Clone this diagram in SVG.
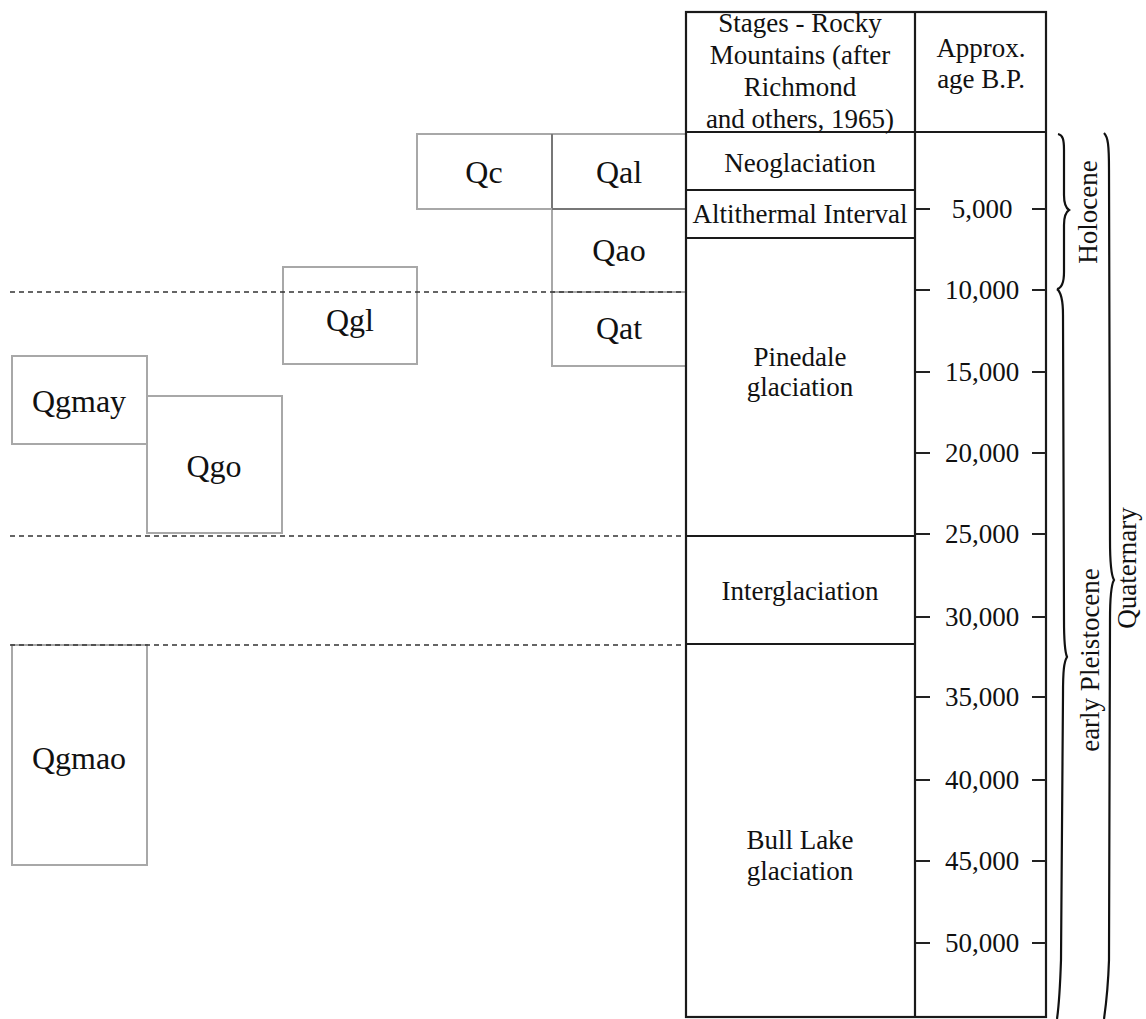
<svg xmlns="http://www.w3.org/2000/svg" width="1146" height="1019" viewBox="0 0 1146 1019">
<style>
text{font-family:"Liberation Serif","Times New Roman",serif;fill:#111}
.t{font-size:27px;text-anchor:middle}
.q{font-size:32px;text-anchor:middle}
.cell{fill:none;stroke:#1a1a1a;stroke-width:2.2}
.box{fill:#fff;stroke:#a8a8a8;stroke-width:2}
.tick{stroke:#222;stroke-width:2}
.dash{stroke:#333;stroke-width:1.5;stroke-dasharray:5 4;fill:none}
.brace{fill:none;stroke:#111;stroke-width:2.2}
</style>
<rect width="1146" height="1019" fill="#fff"/>

<g id="left-boxes">
<g id="Qc"><rect class="box" x="417" y="134" width="135" height="75"/><text class="q" x="484" y="183">Qc</text></g>
<g id="Qal"><rect class="box" x="552" y="134" width="134" height="75"/><line x1="552" y1="134" x2="552" y2="209" stroke="#777" stroke-width="2"/><line x1="552" y1="209" x2="686" y2="209" stroke="#777" stroke-width="2"/><text class="q" x="619" y="183">Qal</text></g>
<g id="Qao"><rect class="box" x="552" y="209" width="134" height="83"/><line x1="552" y1="209" x2="686" y2="209" stroke="#777" stroke-width="2"/><text class="q" x="619" y="261">Qao</text></g>
<g id="Qat"><rect class="box" x="552" y="292" width="134" height="74"/><text class="q" x="619" y="339">Qat</text></g>
<g id="Qgl"><rect class="box" x="283" y="267" width="134" height="97"/><text class="q" x="350" y="331">Qgl</text></g>
<g id="Qgmay"><rect class="box" x="12" y="356" width="135" height="88"/><text class="q" x="79" y="412">Qgmay</text></g>
<g id="Qgo"><rect class="box" x="147" y="396" width="135" height="137"/><text class="q" x="214" y="477">Qgo</text></g>
<g id="Qgmao"><rect class="box" x="12" y="645" width="135" height="220"/><text class="q" x="79" y="769">Qgmao</text></g>
</g>

<g id="connectors">
<line class="dash" x1="10" y1="292" x2="686" y2="292"/>
<line class="dash" x1="10" y1="536" x2="686" y2="536"/>
<line class="dash" x1="10" y1="645" x2="686" y2="645"/>
</g>

<g id="table">
<rect class="cell" x="686" y="12" width="360" height="1005"/>
<line class="cell" x1="915" y1="12" x2="915" y2="1017"/>
<line class="cell" x1="686" y1="132" x2="1046" y2="132"/>
<line class="cell" x1="686" y1="190" x2="915" y2="190"/>
<line class="cell" x1="686" y1="238" x2="915" y2="238"/>
<line class="cell" x1="686" y1="536" x2="915" y2="536"/>
<line class="cell" x1="686" y1="644" x2="915" y2="644"/>
</g>

<g id="header-stages">
<text class="t" x="800" y="32">Stages - Rocky</text>
<text class="t" x="800" y="64">Mountains (after</text>
<text class="t" x="800" y="96">Richmond</text>
<text class="t" x="800" y="128">and others, 1965)</text>
</g>
<g id="header-age">
<text class="t" x="981" y="57">Approx.</text>
<text class="t" x="981" y="88">age B.P.</text>
</g>

<g id="stage-neoglaciation"><text class="t" x="800" y="172">Neoglaciation</text></g>
<g id="stage-altithermal"><text class="t" x="800" y="223">Altithermal Interval</text></g>
<g id="stage-pinedale"><text class="t" x="800" y="366">Pinedale</text><text class="t" x="800" y="396">glaciation</text></g>
<g id="stage-interglaciation"><text class="t" x="800" y="600">Interglaciation</text></g>
<g id="stage-bulllake"><text class="t" x="800" y="849">Bull Lake</text><text class="t" x="800" y="880">glaciation</text></g>

<g id="age-scale">
<g class="tick">
<line x1="916" y1="209" x2="930" y2="209"/><line x1="1032" y1="209" x2="1046" y2="209"/>
<line x1="916" y1="290" x2="930" y2="290"/><line x1="1032" y1="290" x2="1046" y2="290"/>
<line x1="916" y1="372" x2="930" y2="372"/><line x1="1032" y1="372" x2="1046" y2="372"/>
<line x1="916" y1="453" x2="930" y2="453"/><line x1="1032" y1="453" x2="1046" y2="453"/>
<line x1="916" y1="534" x2="930" y2="534"/><line x1="1032" y1="534" x2="1046" y2="534"/>
<line x1="916" y1="617" x2="930" y2="617"/><line x1="1032" y1="617" x2="1046" y2="617"/>
<line x1="916" y1="697" x2="930" y2="697"/><line x1="1032" y1="697" x2="1046" y2="697"/>
<line x1="916" y1="780" x2="930" y2="780"/><line x1="1032" y1="780" x2="1046" y2="780"/>
<line x1="916" y1="861" x2="930" y2="861"/><line x1="1032" y1="861" x2="1046" y2="861"/>
<line x1="916" y1="943" x2="930" y2="943"/><line x1="1032" y1="943" x2="1046" y2="943"/>
</g>
<text class="t" x="982" y="218">5,000</text>
<text class="t" x="982" y="299">10,000</text>
<text class="t" x="982" y="381">15,000</text>
<text class="t" x="982" y="462">20,000</text>
<text class="t" x="982" y="543">25,000</text>
<text class="t" x="982" y="626">30,000</text>
<text class="t" x="982" y="706">35,000</text>
<text class="t" x="982" y="789">40,000</text>
<text class="t" x="982" y="870">45,000</text>
<text class="t" x="982" y="952">50,000</text>
</g>

<g id="brace-holocene">
<path class="brace" d="M1058,134 C1063,135 1064,140 1064,150 L1064,195 C1064,205 1066,208 1069,210 C1066,212 1064,215 1064,225 L1064,272 C1064,283 1062,288 1057,289"/>
<text class="t" transform="translate(1097,212) rotate(-90)">Holocene</text>
</g>
<g id="brace-pleistocene">
<path class="brace" d="M1057,289 C1061,292 1063,300 1063,315 L1064,620 C1064,645 1065,652 1067,657 C1064,662 1063,670 1063,695 L1061,960 C1060,990 1059,1005 1057,1019"/>
<text class="t" transform="translate(1099,660) rotate(-90)">early Pleistocene</text>
</g>
<g id="brace-quaternary">
<path class="brace" d="M1104,133 C1108,137 1109,145 1109,170 L1110,540 C1110,565 1111,575 1114,580 C1111,585 1110,595 1110,620 L1109,960 C1108,990 1106,1005 1104,1019"/>
<text class="t" transform="translate(1136,568) rotate(-90)">Quaternary</text>
</g>
</svg>
